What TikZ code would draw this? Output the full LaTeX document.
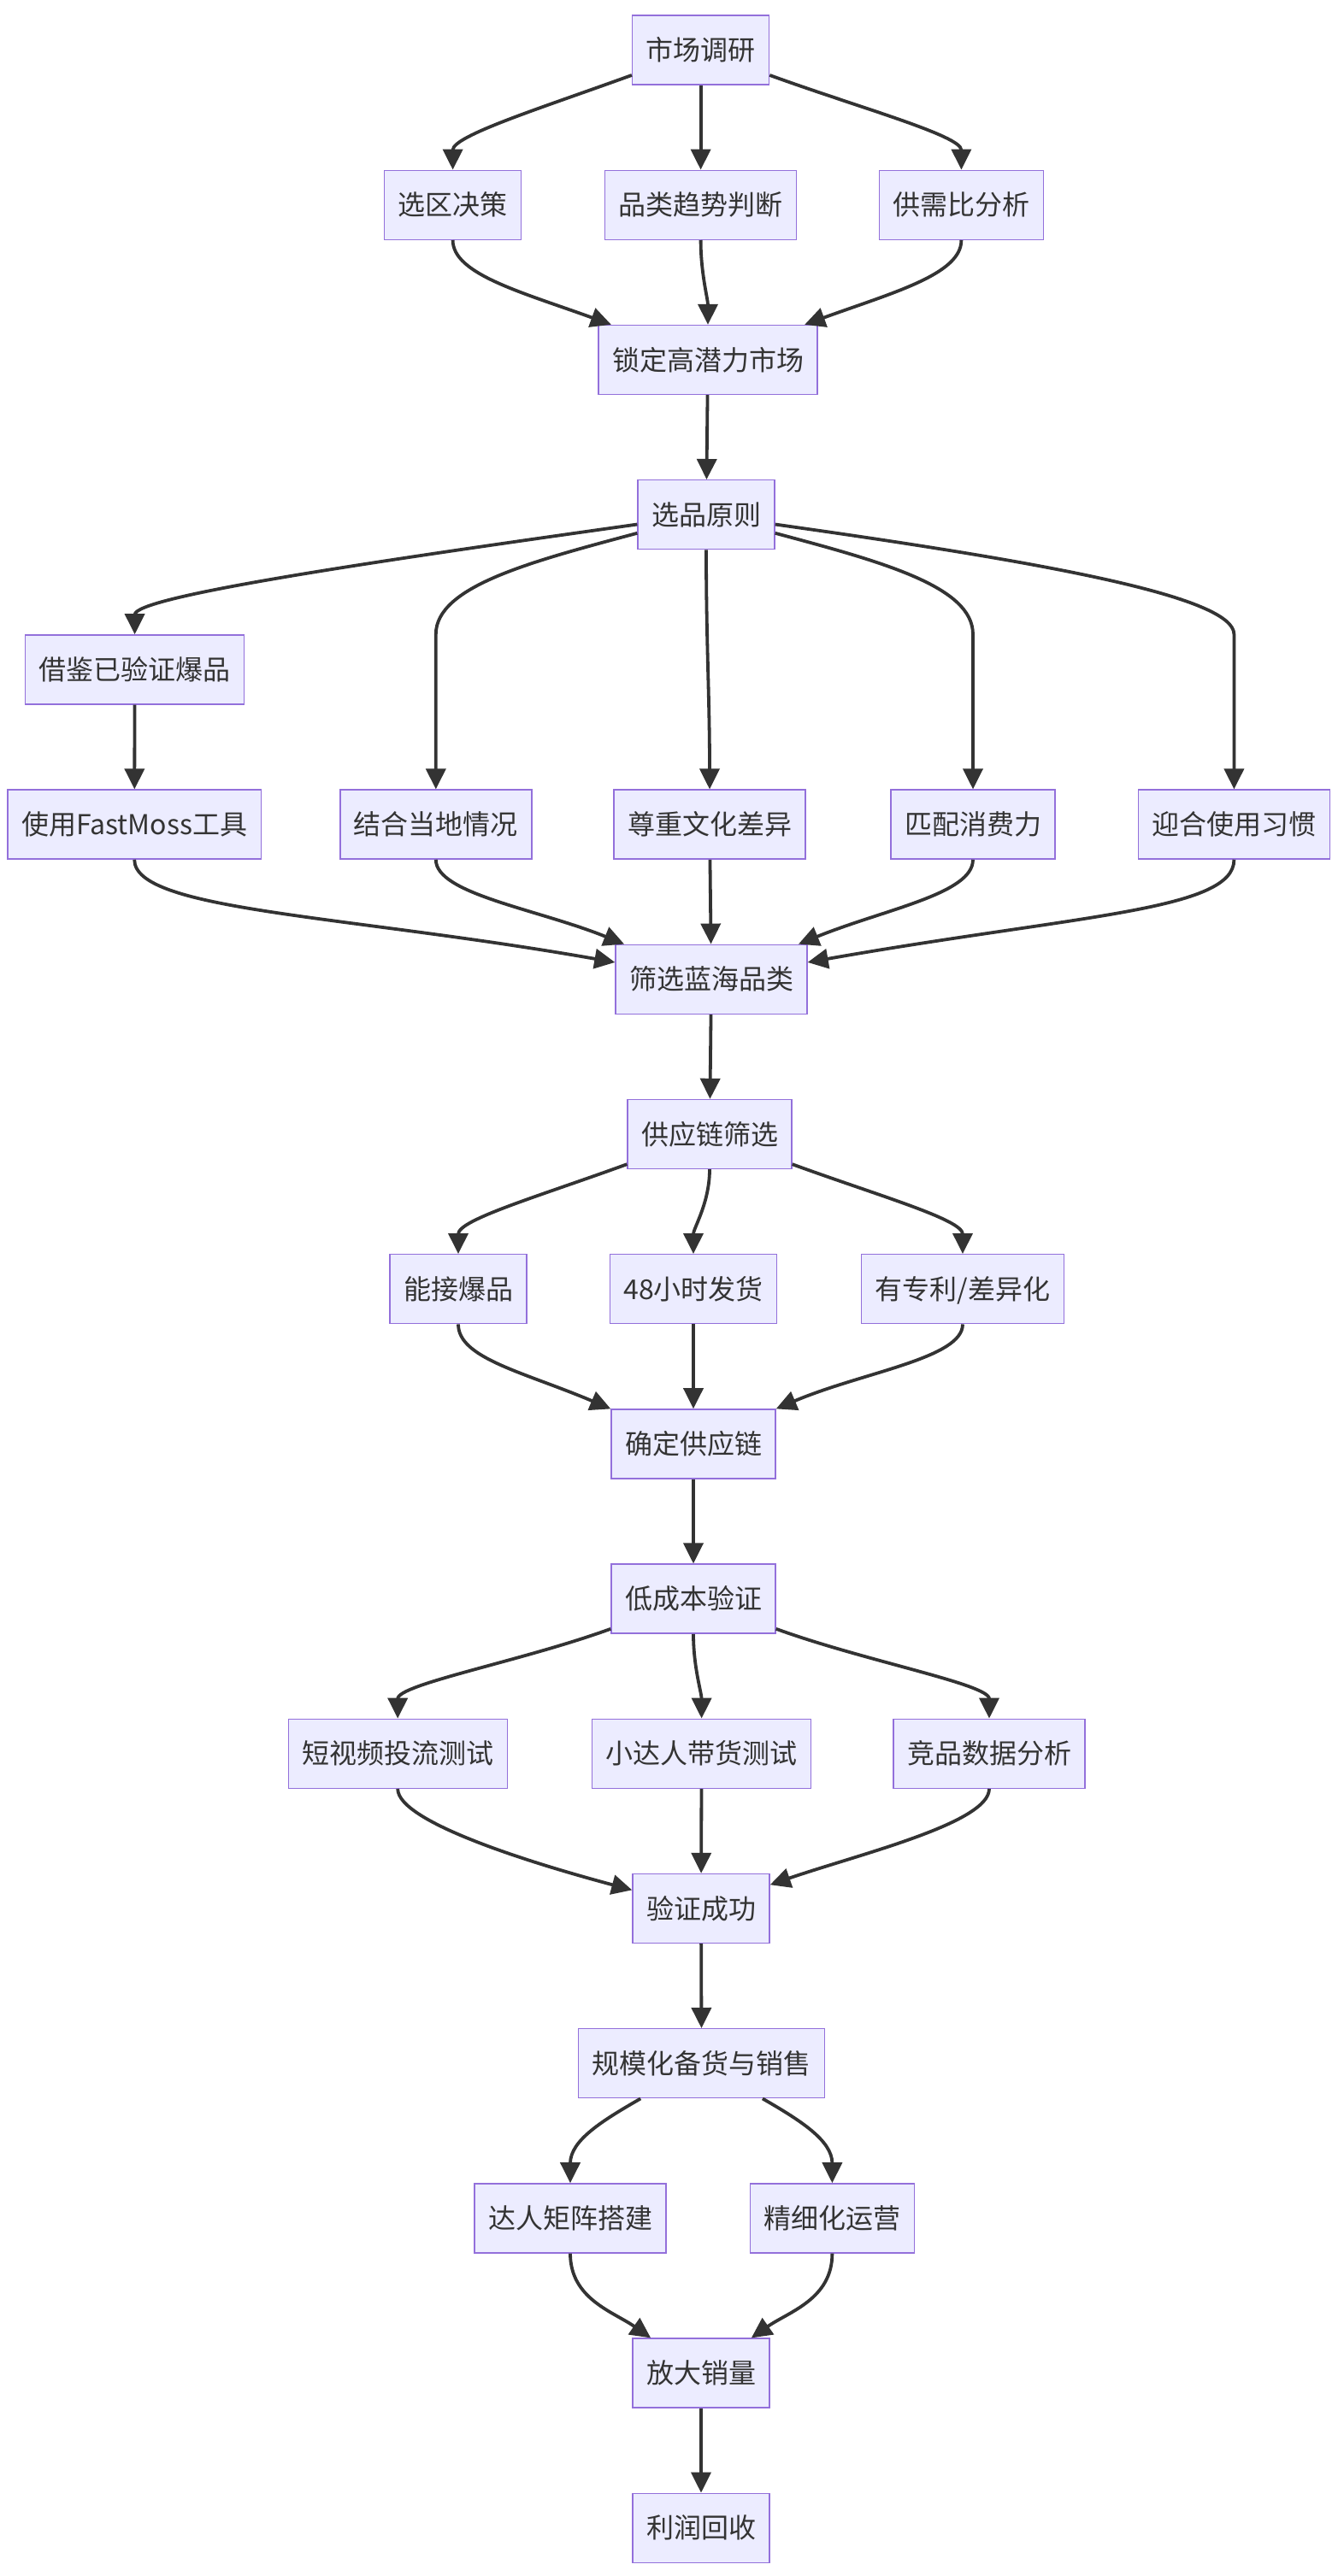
\documentclass[tikz,border=0pt]{standalone}
\usepackage{fontspec}
\setmainfont{Noto Sans CJK SC}
\usetikzlibrary{arrows.meta}
\definecolor{nodeFill}{HTML}{ECECFF}
\definecolor{nodeLine}{HTML}{9370DB}
\definecolor{edgeLine}{HTML}{333333}

\begin{document}
\begin{tikzpicture}[x=1pt,y=1pt,
    every node/.style={font=\fontsize{16}{19}\selectfont,text=edgeLine},
    box/.style={draw=nodeLine,fill=nodeFill,line width=0.7pt,minimum height=40.5pt,inner xsep=8pt,inner ysep=0pt,text height=13pt,text depth=1pt},
    flow/.style={draw=edgeLine,line width=1.9pt,-{Triangle[length=12pt,width=11.5pt]}},
    split/.style={out distance=55pt,in distance=20pt},
    merge/.style={out distance=20pt,in distance=55pt}]
    \useasboundingbox (0,0) rectangle (786,-1507);
    % market
    \node[box](sc)at(409.8,-29.3){市场调研};
    \node[box](xq)at(264.8,-119.9){选区决策};
    \node[box](pl)at(409.8,-119.9){品类趋势判断};
    \node[box](gx)at(562.2,-119.9){供需比分析};
    \node[box](sd)at(414,-210.5){锁定高潜力市场};
    % product
    \node[box](xp)at(413,-301.1){选品原则};
    \node[box](jj)at(78.8,-391.7){借鉴已验证爆品};
    \node[box](gj)at(78.6,-482.3){使用FastMoss工具};
    \node[box](jh)at(254.9,-482.3){结合当地情况};
    \node[box](zz)at(415,-482.3){尊重文化差异};
    \node[box](pp)at(569,-482.3){匹配消费力};
    \node[box](yh)at(721.7,-482.3){迎合使用习惯};
    \node[box](sx)at(416,-572.9){筛选蓝海品类};
    % supply chain
    \node[box](gy)at(415,-663.5){供应链筛选};
    \node[box](nj)at(268,-754.1){能接爆品};
    \node[box](fh)at(405.5,-754.1){48小时发货};
    \node[box](zl)at(563,-754.1){有专利/差异化};
    \node[box](qd)at(405.5,-844.7){确定供应链};
    % test
    \node[box](yz)at(405.5,-935.3){低成本验证};
    \node[box](dsp)at(232.6,-1025.9){短视频投流测试};
    \node[box](xdr)at(410.3,-1025.9){小达人带货测试};
    \node[box](jp)at(578.5,-1025.9){竞品数据分析};
    \node[box](cg)at(410,-1116.5){验证成功};
    % scale up
    \node[box](gm)at(410.3,-1207.1){规模化备货与销售};
    \node[box](dr)at(333.5,-1297.7){达人矩阵搭建};
    \node[box](jx)at(486.7,-1297.7){精细化运营};
    \node[box](fd)at(410,-1388.3){放大销量};
    \node[box](lr)at(410,-1478.9){利润回收};

    \draw[flow](sc)to[out=200,in=90,split](xq);
    \draw[flow](sc)--(pl);
    \draw[flow](sc)to[out=-20,in=90,split](gx);
    \draw[flow](xq)to[out=-90,in=160,merge](sd);
    \draw[flow](pl)to[out=-90,in=90,in distance=15pt](sd);
    \draw[flow](gx)to[out=-90,in=20,merge](sd);
    \draw[flow](sd)--(xp);
    \draw[flow](xp)to[out=188,in=90,out distance=160pt,in distance=22pt](jj);
    \draw[flow](xp)to[out=195,in=90,out distance=65pt,in distance=28pt](jh |- jj.north)--(jh);
    \draw[flow](xp)to[out=-90,in=90](zz);
    \draw[flow](xp)to[out=-15,in=90,out distance=65pt,in distance=28pt](pp |- jj.north)--(pp);
    \draw[flow](xp)to[out=-8,in=90,out distance=160pt,in distance=22pt](yh |- jj.north)--(yh);
    \draw[flow](jj)--(gj);
    \draw[flow](gj)to[out=-90,in=170,out distance=30pt,in distance=160pt](sx);
    \draw[flow](jh)to[out=-90,in=158,merge](sx);
    \draw[flow](zz)--(sx);
    \draw[flow](pp)to[out=-90,in=22,merge](sx);
    \draw[flow](yh)to[out=-90,in=10,out distance=30pt,in distance=160pt](sx);
    \draw[flow](sx)--(gy);
    \draw[flow](gy)to[out=200,in=90,split](nj);
    \draw[flow](gy)to[out=-90,in=90,in distance=15pt](fh);
    \draw[flow](gy)to[out=-20,in=90,split](zl);
    \draw[flow](nj)to[out=-90,in=157,merge](qd);
    \draw[flow](fh)--(qd);
    \draw[flow](zl)to[out=-90,in=23,merge](qd);
    \draw[flow](qd)--(yz);
    \draw[flow](yz)to[out=200,in=90,split](dsp);
    \draw[flow](yz)to[out=-90,in=90,in distance=15pt](xdr);
    \draw[flow](yz)to[out=-20,in=90,split](jp);
    \draw[flow](dsp)to[out=-90,in=165,merge](cg);
    \draw[flow](xdr)--(cg);
    \draw[flow](jp)to[out=-90,in=19,merge](cg);
    \draw[flow](cg)--(gm);
    \draw[flow](gm)to[out=210,in=90](dr);
    \draw[flow](gm)to[out=-30,in=90](jx);
    \draw[flow](dr)to[out=-90,in=145](fd);
    \draw[flow](jx)to[out=-90,in=35](fd);
    \draw[flow](fd)--(lr);
\end{tikzpicture}
\end{document}
